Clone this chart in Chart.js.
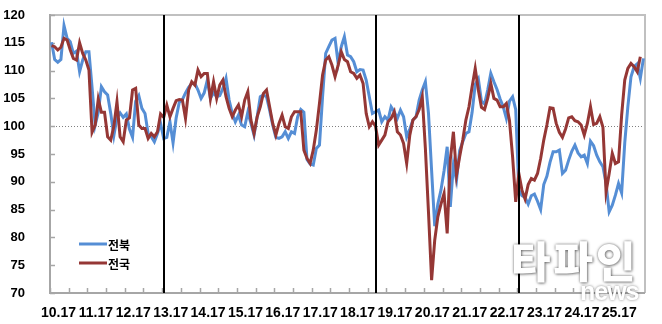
<!DOCTYPE html>
<html lang="ko">
<head>
<meta charset="utf-8">
<script src="https://cdn.jsdelivr.net/npm/chart.js@4.4.1/dist/chart.umd.min.js"></script>
<style>
  html, body { margin: 0; padding: 0; background: #fff; }
  #wrap { position: relative; width: 662px; height: 324px; overflow: hidden; }
  canvas { display: block; }
  .wm1 { position: absolute; left: 511px; top: 238px; font: 900 43px 'Noto Sans CJK KR', sans-serif; line-height: 1; color: #fff;
         text-shadow: 0 0 3px rgba(0,0,0,0.55), 1px 1px 3px rgba(0,0,0,0.35); letter-spacing: 3px; }
  .wm2 { position: absolute; left: 580px; top: 279px; font: 700 25px 'Liberation Sans', sans-serif; line-height: 1; color: #fff;
         text-shadow: 0 0 3px rgba(0,0,0,0.5); letter-spacing: -1px; }
</style>
</head>
<body>
<div id="wrap">
  <canvas id="c" width="662" height="324"></canvas>
  <div class="wm1">타파인</div>
  <div class="wm2">news</div>
</div>
<script>
// ---- data (monthly) ----
const tickLabels = ['10.17','11.17','12.17','13.17','14.17','15.17','16.17','17.17',
                    '18.17','19.17','20.17','21.17','22.17','23.17','24.17','25.17'];
const seriesNames = ['전북', '전국'];
const jeonbuk = [
  115.1,112.0,111.5,112.0,118.1,115.8,115.2,113.1,113.5,109.8,
  111.9,113.4,113.4,107.0,100.2,102.5,107.1,106.2,105.6,102.3,
  98.3,101.5,102.4,101.6,102.2,99.5,98.0,104.5,105.5,103.2,
  102.3,98.7,98.1,97.2,98.7,100.5,97.8,98.0,100.8,97.0,
  101.5,104.3,104.8,106.0,107.0,107.7,107.7,106.5,105.0,106.0,
  108.3,105.0,106.0,105.3,105.5,106.8,108.6,104.7,102.3,100.8,
  102.0,100.2,99.9,102.5,100.5,98.4,101.7,105.3,105.6,105.3,
  102.9,100.2,98.0,97.8,98.1,99.0,97.8,99.0,98.7,101.7,
  103.0,102.5,94.0,93.2,93.0,96.0,96.6,105.3,113.1,114.3,
  115.5,115.8,111.3,114.3,116.1,112.8,112.5,111.6,109.8,110.2,
  110.1,108.3,105.3,102.3,102.6,102.9,100.8,101.7,101.1,103.5,
  102.6,101.4,102.9,101.7,98.1,99.5,101.1,101.7,104.7,106.5,
  108.0,102.3,92.0,82.0,86.0,88.5,92.0,96.3,85.5,93.0,
  90.3,95.6,97.2,98.7,99.0,102.5,107.5,108.5,104.5,104.0,
  106.5,109.5,108.0,106.6,104.9,103.5,101.4,104.5,105.3,103.0,
  88.5,87.5,87.2,86.0,87.5,87.8,86.5,85.0,89.5,91.0,
  93.5,95.4,95.4,95.7,91.5,92.1,93.9,95.5,96.6,95.2,
  94.5,94.8,93.3,97.3,96.5,94.8,93.6,92.7,89.7,84.6,
  85.8,87.6,89.7,88.0,97.0,103.5,108.9,110.7,111.2,108.6,
  112.2
];
const national = [
  114.5,114.3,113.7,114.2,115.8,115.5,113.7,112.2,111.9,115.0,
  113.1,111.9,110.1,98.9,100.2,104.9,102.5,102.5,98.1,97.5,
  100.0,104.4,98.1,97.2,101.1,101.5,106.5,106.8,100.2,99.6,
  99.6,97.8,98.7,98.1,99.0,102.2,101.6,103.8,101.7,103.2,
  104.6,104.8,104.7,101.4,106.5,108.0,107.4,110.1,108.9,109.5,
  109.5,104.9,108.0,105.0,107.4,108.3,105.3,103.2,101.7,102.9,
  103.8,101.7,104.7,106.2,101.1,98.7,101.7,103.5,105.9,106.5,
  103.5,100.5,98.4,100.5,102.0,99.9,99.6,101.7,102.6,102.6,
  102.6,95.7,94.2,93.3,95.7,99.3,104.1,109.2,111.9,112.5,
  111.0,108.9,111.0,113.4,112.0,111.6,109.8,109.5,108.6,109.2,
  107.7,102.3,99.9,100.8,100.0,96.6,97.5,98.4,100.8,101.4,
  102.6,99.0,98.4,96.9,93.3,98.4,101.1,101.7,103.0,105.3,
  96.0,84.5,72.3,79.5,83.7,86.0,87.9,80.7,94.0,99.0,
  91.2,94.5,97.5,101.1,103.5,107.1,110.4,106.5,103.4,103.0,
  105.0,107.7,105.0,104.7,103.5,103.5,104.1,101.0,94.5,86.4,
  91.5,88.5,86.9,89.5,90.6,90.3,91.5,94.2,97.5,100.2,
  103.3,103.2,100.5,98.9,98.0,99.5,101.5,101.7,101.0,100.8,
  100.2,98.4,100.5,103.5,100.3,100.5,101.7,99.8,88.2,91.5,
  95.1,93.3,93.6,102.0,108.3,110.4,111.3,110.7,109.8,112.5
];
const markerIdx = [36, 104, 150];   // months marked with vertical lines
const refValue = 100;

// category labels: one per month from 2010.1
const categories = [];
for (let k = 0; k < jeonbuk.length; k++) {
  categories.push((10 + Math.floor(k / 12)) + '.' + (k % 12 + 1));
}

const colors = ['#558ED5', '#953735'];

const overlay = {
  id: 'overlay',
  beforeDatasetsDraw(chart) {
    const { ctx, chartArea: a, scales: { x, y } } = chart;
    ctx.save();
    const yr = Math.round(y.getPixelForValue(refValue)) + 0.5;
    ctx.strokeStyle = '#808080'; ctx.lineWidth = 1; ctx.setLineDash([1, 2]);
    ctx.beginPath(); ctx.moveTo(a.left, yr); ctx.lineTo(a.right, yr); ctx.stroke();
    ctx.setLineDash([]);
    ctx.lineWidth = 2;
    ctx.strokeStyle = '#c0c0c0';
    ctx.beginPath(); ctx.moveTo(a.left, a.top); ctx.lineTo(a.right, a.top); ctx.lineTo(a.right, a.bottom); ctx.stroke();
    ctx.strokeStyle = '#a6a6a6';
    ctx.beginPath(); ctx.moveTo(a.left, a.top - 1); ctx.lineTo(a.left, a.bottom); ctx.lineTo(a.right, a.bottom); ctx.stroke();
    ctx.lineWidth = 1.5;
    for (let v = y.min; v <= y.max; v += 5) {
      const py = Math.round(y.getPixelForValue(v)) + 0.5;
      ctx.beginPath(); ctx.moveTo(a.left, py); ctx.lineTo(a.left + 5, py); ctx.stroke();
    }
    const step = x.getPixelForValue(1) - x.getPixelForValue(0);
    for (let i = 0; i <= categories.length; i += 6) {
      const px = Math.round(x.getPixelForValue(i) - step / 2) + 0.5;
      if (px > a.right + 1) break;
      ctx.beginPath(); ctx.moveTo(px, a.bottom); ctx.lineTo(px, a.bottom - 5); ctx.stroke();
    }
    ctx.restore();
  },
  afterDatasetsDraw(chart) {
    const { ctx, chartArea: a, scales: { x } } = chart;
    ctx.save();
    ctx.strokeStyle = '#000'; ctx.lineWidth = 2;
    markerIdx.forEach(i => {
      const px = Math.round(x.getPixelForValue(i));
      ctx.beginPath(); ctx.moveTo(px, a.top); ctx.lineTo(px, a.bottom); ctx.stroke();
    });
    const lx = 79, ly = [244, 263];
    chart.data.datasets.forEach((ds, k) => {
      ctx.strokeStyle = ds.borderColor; ctx.lineWidth = 3;
      ctx.beginPath(); ctx.moveTo(lx, ly[k]); ctx.lineTo(lx + 28, ly[k]); ctx.stroke();
      ctx.fillStyle = '#000';
      ctx.font = 'bold 12px "Noto Sans CJK KR"';
      ctx.textBaseline = 'middle'; ctx.textAlign = 'left';
      ctx.fillText(ds.label, lx + 29, ly[k] + 1);
    });
    ctx.restore();
  }
};

new Chart(document.getElementById('c'), {
  type: 'line',
  data: {
    labels: categories,
    datasets: [
      { label: seriesNames[0], data: jeonbuk, borderColor: colors[0], borderWidth: 3,
        pointRadius: 0, tension: 0, fill: false, order: 1 },
      { label: seriesNames[1], data: national, borderColor: colors[1], borderWidth: 3,
        pointRadius: 0, tension: 0, fill: false, order: 0 }
    ]
  },
  options: {
    responsive: false,
    animation: false,
    events: [],
    layout: { padding: { top: 15, right: 17, left: 0, bottom: 0 } },
    plugins: { legend: { display: false }, tooltip: { enabled: false } },
    scales: {
      x: {
        type: 'category',
        offset: true,
        grid: { display: false },
        border: { display: false },
        ticks: {
          autoSkip: false, maxRotation: 0, minRotation: 0,
          padding: 4, labelOffset: 7,
          color: '#000',
          font: { family: 'Liberation Sans', size: 14, weight: 'bold' },
          callback: (v, i) => (i % 12 === 0 ? tickLabels[i / 12] : '')
        },
        afterFit(s) { s.height = 31; }
      },
      y: {
        min: 70, max: 120,
        grid: { display: false },
        border: { display: false },
        ticks: {
          stepSize: 5, padding: 17, color: '#000',
          font: { family: 'Liberation Sans', size: 13, weight: 'bold' }
        },
        afterFit(s) { s.width = 50; s.paddingTop = 0; s.paddingBottom = 0; }
      }
    }
  },
  plugins: [overlay]
});
</script>
</body>
</html>
